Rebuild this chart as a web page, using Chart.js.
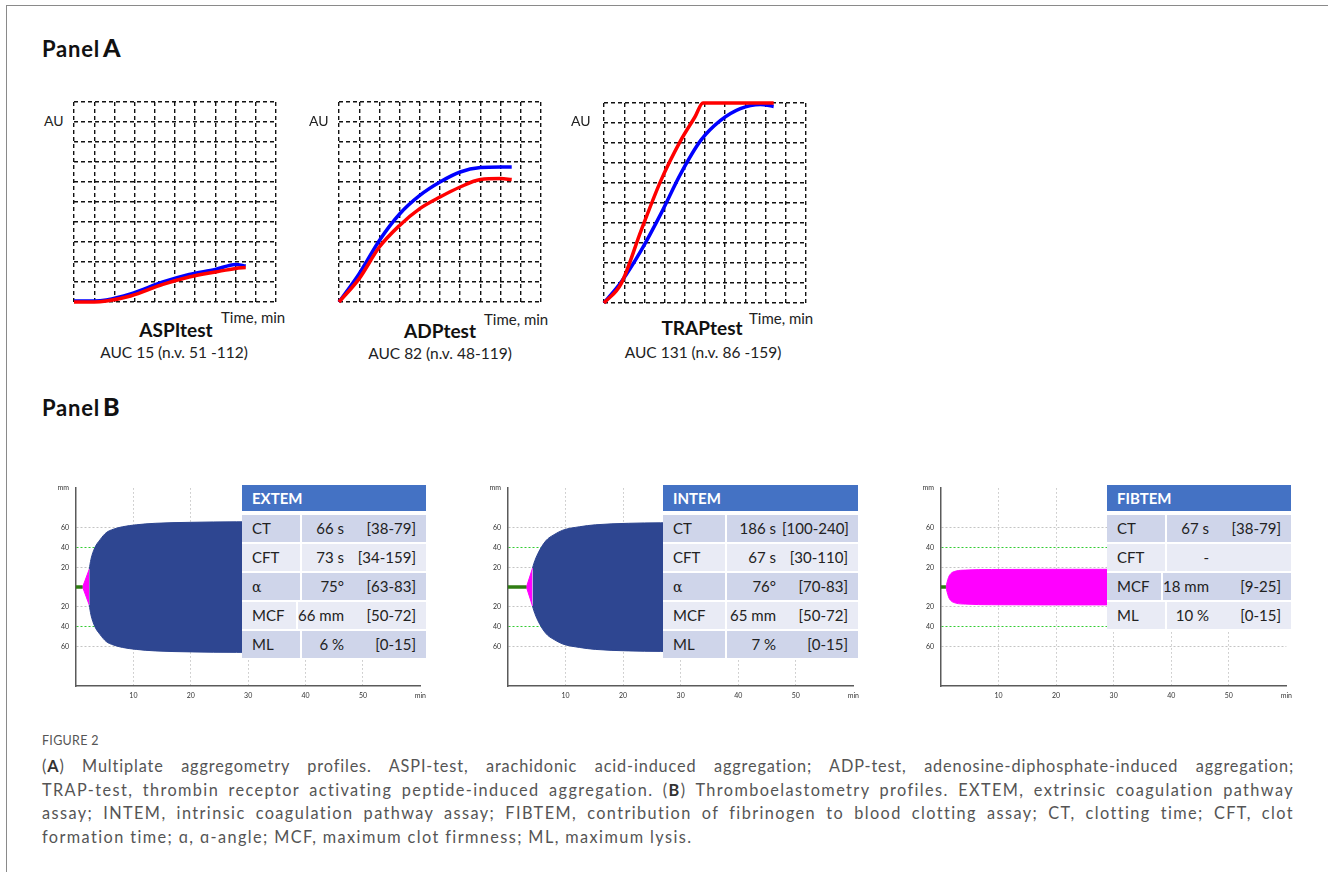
<!DOCTYPE html>
<html>
<head>
<meta charset="utf-8">
<script src="https://cdn.jsdelivr.net/npm/chart.js@4.4.1/dist/chart.umd.min.js"></script>
<style>
  body { margin: 0; background: #fff; width: 1328px; height: 872px; overflow: hidden; position: relative; font-family: Lato, "Open Sans", sans-serif; color: #222; }
  .abs { position: absolute; white-space: nowrap; }
  .frame { position: absolute; left: 6px; top: 5px; width: 1330px; height: 880px; border-left: 1px solid #8a8a8a; border-top: 1px solid #8a8a8a; }
  canvas { position: absolute; }
  .ttl { font-weight: bold; font-size: 22px; letter-spacing: 0.8px; color: #111; }
  .ttl b { font-size: 25px; margin-left: 3px; letter-spacing: 0; }
  .au { font-size: 14px; line-height: 16px; }
  .tm { font-size: 15px; line-height: 16px; }
  .test { font-size: 19px; line-height: 20px; font-weight: bold; transform: translateX(-50%); color: #111; }
  .auc { font-size: 15.5px; line-height: 18px; transform: translateX(-50%); }
  .tbl { position: absolute; font-size: 15px; background: #fff; }
  .tbl .hd { height: 26px; line-height: 26px; background: #4472c4; color: #fff; font-weight: bold; padding-left: 10px; border-bottom: 4px solid #fff; }
  .tbl .row { display: flex; height: 27px; line-height: 27px; border-bottom: 2px solid #fff; white-space: nowrap; }
  .tbl .lb { padding-left: 10px; box-sizing: border-box; border-right: 2px solid #fff; }
  .tbl .vl { flex: 1; display: flex; justify-content: flex-end; padding-right: 10px; }
  .tbl .rg { width: 66px; text-align: right; margin-left: 6px; }
  .cap { position: absolute; left: 42px; width: 1252px; font-size: 16.3px; letter-spacing: 1.4px; color: #555; line-height: 23.5px; }
  .cap div { text-align: justify; text-align-last: justify; white-space: nowrap; }
  .cap div.first { letter-spacing: 0.85px; }
  .cap div.last { text-align-last: left; }
  .cap b { color: #333; font-weight: bold; }
</style>
</head>
<body>
<div class="frame"></div>

<div class="abs ttl" style="left:42px; top:32px;">Panel<b>A</b></div>
<div class="abs ttl" style="left:42px; top:391px;">Panel<b>B</b></div>

<canvas id="aspi" width="210" height="208" style="left:70px; top:98px;"></canvas>
<canvas id="adp" width="210" height="208" style="left:335px; top:98px;"></canvas>
<canvas id="trap" width="210" height="208" style="left:600px; top:99px;"></canvas>

<div class="abs au" style="left:44px; top:113px;">AU</div>
<div class="abs au" style="left:309px; top:113px;">AU</div>
<div class="abs au" style="left:571px; top:113px;">AU</div>

<div class="abs tm" style="left:221px; top:309px;">Time, min</div>
<div class="abs tm" style="left:484px; top:311px;">Time, min</div>
<div class="abs tm" style="left:749px; top:310px;">Time, min</div>

<div class="abs test" style="left:176px; top:320px;">ASPItest</div>
<div class="abs test" style="left:440px; top:321px;">ADPtest</div>
<div class="abs test" style="left:702px; top:318px;">TRAPtest</div>

<div class="abs auc" style="left:174px; top:343px;">AUC 15 (n.v. 51 -112)</div>
<div class="abs auc" style="left:440px; top:344px;">AUC 82 (n.v. 48-119)</div>
<div class="abs auc" style="left:703px; top:343px;">AUC 131 (n.v. 86 -159)</div>

<canvas id="extem" width="386" height="229" style="left:46px; top:477px;"></canvas>
<canvas id="intem" width="387" height="229" style="left:478px; top:477px;"></canvas>
<canvas id="fibtem" width="387" height="229" style="left:911px; top:477px;"></canvas>

<div id="tExtem" class="tbl" style="left:242px; top:485px; width:184px;"></div>
<div id="tIntem" class="tbl" style="left:663px; top:485px; width:195px;"></div>
<div id="tFibtem" class="tbl" style="left:1107px; top:485px; width:184px;"></div>

<div class="abs" style="left:42px; top:733px; font-size:12.5px; color:#555; letter-spacing:0.3px;">FIGURE 2</div>
<div class="cap" style="top:754px;">
  <div class="first">(<b>A</b>) Multiplate aggregometry profiles. ASPI-test, arachidonic acid-induced aggregation; ADP-test, adenosine-diphosphate-induced aggregation;</div>
  <div>TRAP-test, thrombin receptor activating peptide-induced aggregation. (<b>B</b>) Thromboelastometry profiles. EXTEM, extrinsic coagulation pathway</div>
  <div>assay; INTEM, intrinsic coagulation pathway assay; FIBTEM, contribution of fibrinogen to blood clotting assay; CT, clotting time; CFT, clot</div>
  <div class="last">formation time; ɑ, ɑ-angle; MCF, maximum clot firmness; ML, maximum lysis.</div>
</div>

<script>
// Panel A: aggregometry curves, in grid units (10 x 10 grid)
var aspiTime = [0, 1.0, 1.6, 2.8, 4.4, 5.7, 7.0, 8.0, 8.5];
var aspiRed  = [0, 0, 0.05, 0.3, 0.88, 1.25, 1.5, 1.68, 1.72];
var aspiBlue = [0.05, 0.05, 0.1, 0.4, 1.0, 1.38, 1.63, 1.88, 1.8];

var adpTime = [0, 1, 2, 3, 4, 5, 6, 7, 8, 8.55];
var adpRed  = [0, 1.17, 2.75, 3.83, 4.67, 5.25, 5.75, 6.12, 6.17, 6.12];
var adpBlue = [0, 1.42, 3.08, 4.4, 5.33, 6.0, 6.5, 6.72, 6.75, 6.75];

var trapRedTime  = [0, 0.85, 1.84, 2.82, 3.8, 4.5, 4.9, 6, 7, 8.4];
var trapRed      = [0, 0.97, 3.63, 6.13, 8.13, 9.3, 10, 10, 10, 10];
var trapBlueTime = [0, 0.85, 1.84, 2.82, 3.8, 4.79, 5.77, 6.75, 7.74, 8.4];
var trapBlue     = [0, 1.05, 2.63, 4.47, 6.47, 8.13, 9.13, 9.72, 9.93, 9.83];

// Panel B: ROTEM amplitude (mm) vs time (min), drawn mirrored around 0
var extemGreenEnd = 1.15;
var extemPinkTime = [1.15, 2.3];
var extemPinkAmp  = [0, 18];
var extemBlueTime = [2.3, 2.6, 3.26, 4.2, 5.26, 6.5, 8.1, 10.5, 13.8, 20, 28, 60];
var extemBlueAmp  = [18, 28, 39.6, 48, 55, 58.5, 61, 63, 64.5, 65.5, 66, 66];

var intemGreenEnd = 3.2;
var intemPinkTime = [3.2, 4.25];
var intemPinkAmp  = [0, 19];
var intemBlueTime = [4.25, 4.5, 5.2, 6.6, 8, 9.5, 12.4, 15.2, 20.9, 26.5, 60];
var intemBlueAmp  = [19, 24, 34, 47, 53, 57.5, 61, 63, 64.5, 65, 65];

var fibtemGreenEnd = 0.85;
var fibtemPinkTime = [0.85, 1.3, 1.7, 2.6, 4.3, 8.8, 28, 60];
var fibtemPinkAmp  = [0, 9.7, 13.6, 16.2, 17.2, 17.8, 18, 18];

// result tables
var extemLabels = ['CT', 'CFT', 'α', 'MCF', 'ML'];
var extemValues = ['66 s', '73 s', '75°', '66 mm', '6 %'];
var extemRanges = ['[38-79]', '[34-159]', '[63-83]', '[50-72]', '[0-15]'];
var intemLabels = ['CT', 'CFT', 'α', 'MCF', 'ML'];
var intemValues = ['186 s', '67 s', '76°', '65 mm', '7 %'];
var intemRanges = ['[100-240]', '[30-110]', '[70-83]', '[50-72]', '[0-15]'];
var fibtemLabels = ['CT', 'CFT', 'MCF', 'ML'];
var fibtemValues = ['67 s', '-', '18 mm', '10 %'];
var fibtemRanges = ['[38-79]', '', '[9-25]', '[0-15]'];

function pts(xs, ys, sign) {
	return xs.map(function(x, i) { return { x: x, y: (sign || 1) * ys[i] }; });
}

function aggLine(data, color) {
	return {
		data: data,
		borderColor: color,
		borderWidth: 3.5,
		pointRadius: 0,
		cubicInterpolationMode: 'monotone',
		clip: false,
		fill: false
	};
}

function aggChart(id, red, blue) {
	new Chart(document.getElementById(id), {
		type: 'line',
		data: { datasets: [aggLine(red, '#ff0000'), aggLine(blue, '#0000ff')] },
		options: {
			responsive: false,
			animation: false,
			layout: { padding: 4 },
			plugins: { legend: { display: false }, tooltip: { enabled: false } },
			scales: {
				x: {
					type: 'linear', min: 0, max: 10,
					ticks: { display: false, stepSize: 1 },
					grid: { color: '#111', lineWidth: 1.4, drawTicks: false },
					border: { display: false, dash: [4, 3] },
					afterFit: function(s) { s.height = 0; }
				},
				y: {
					type: 'linear', min: 0, max: 10,
					ticks: { display: false, stepSize: 1 },
					grid: { color: '#111', lineWidth: 1.4, drawTicks: false },
					border: { display: false, dash: [4, 3] },
					afterFit: function(s) { s.width = 0; }
				}
			}
		}
	});
}

aggChart('aspi', pts(aspiTime, aspiRed), pts(aspiTime, aspiBlue));
aggChart('adp', pts(adpTime, adpRed), pts(adpTime, adpBlue));
aggChart('trap', pts(trapRedTime, trapRed), pts(trapBlueTime, trapBlue));

function shape(data, color) {
	return {
		data: data,
		borderColor: color,
		backgroundColor: color,
		borderWidth: 1,
		pointRadius: 0,
		cubicInterpolationMode: 'monotone',
		fill: 'origin'
	};
}

function rotemChart(id, greenEnd, pinkT, pinkA, blueT, blueA) {
	var sets = [{
		data: [{ x: 0, y: 0 }, { x: greenEnd, y: 0 }],
		borderColor: '#2f7d12',
		borderWidth: 3.5,
		pointRadius: 0,
		fill: false
	}];
	sets.push(shape(pts(pinkT, pinkA), '#ff00ff'));
	sets.push(shape(pts(pinkT, pinkA, -1), '#ff00ff'));
	if (blueT) {
		sets.push(shape(pts(blueT, blueA), '#2e4691'));
		sets.push(shape(pts(blueT, blueA, -1), '#2e4691'));
	}
	new Chart(document.getElementById(id), {
		type: 'line',
		data: { datasets: sets },
		options: {
			responsive: false,
			animation: false,
			layout: { padding: { top: 4, right: 6, left: 0, bottom: 0 } },
			plugins: { legend: { display: false }, tooltip: { enabled: false } },
			scales: {
				x: {
					type: 'linear', min: 0, max: 60,
					afterBuildTicks: function(s) { s.ticks = [10, 20, 30, 40, 50, 60].map(function(v) { return { value: v }; }); },
					ticks: {
						font: { size: 7, family: 'Lato' }, color: '#333', padding: 6, maxRotation: 0,
						callback: function(v) { return v === 60 ? 'min' : v; }
					},
					grid: {
						drawTicks: false, lineWidth: 1,
						color: function(c) { return c.tick && c.tick.value === 60 ? 'rgba(0,0,0,0)' : '#c4c4c4'; }
					},
					border: { color: '#5a5a5a', width: 1.5, dash: [1.5, 2.5] },
					afterFit: function(s) { s.height = 20; }
				},
				y: {
					type: 'linear', min: -100, max: 100,
					afterBuildTicks: function(s) { s.ticks = [-60, -40, -20, 20, 40, 60, 100].map(function(v) { return { value: v }; }); },
					ticks: {
						font: { size: 7, family: 'Lato' }, color: '#333', padding: 7,
						callback: function(v) { return v === 100 ? 'mm' : Math.abs(v); }
					},
					grid: {
						drawTicks: false, lineWidth: 1,
						color: function(c) {
							if (!c.tick) return '#c4c4c4';
							if (c.tick.value === 100) return 'rgba(0,0,0,0)';
							return Math.abs(c.tick.value) === 40 ? '#33cc33' : '#c4c4c4';
						}
					},
					border: { color: '#5a5a5a', width: 1.5, dash: [2, 2] },
					afterFit: function(s) { s.width = 30; }
				}
			}
		}
	});
}

rotemChart('extem', extemGreenEnd, extemPinkTime, extemPinkAmp, extemBlueTime, extemBlueAmp);
rotemChart('intem', intemGreenEnd, intemPinkTime, intemPinkAmp, intemBlueTime, intemBlueAmp);
rotemChart('fibtem', fibtemGreenEnd, fibtemPinkTime, fibtemPinkAmp);

function table(id, name, labelW, labels, values, ranges) {
	var html = '<div class="hd">' + name + '</div>';
	labels.forEach(function(l, i) {
		var bg = i % 2 === 0 ? '#cfd5ea' : '#e9ebf5';
		var lab = l === 'α' ? '<span style="font-family:\'DejaVu Serif\';font-size:14px">α</span>' : l;
		html += '<div class="row"><div class="lb" style="width:' + labelW + 'px;background:' + bg + '">' + lab + '</div>' +
			'<div class="vl" style="background:' + bg + '"><span>' + values[i] + '</span><span class="rg">' + ranges[i] + '</span></div></div>';
	});
	document.getElementById(id).innerHTML = html;
}

table('tExtem', 'EXTEM', 60, extemLabels, extemValues, extemRanges);
table('tIntem', 'INTEM', 64, intemLabels, intemValues, intemRanges);
table('tFibtem', 'FIBTEM', 60, fibtemLabels, fibtemValues, fibtemRanges);
</script>
</body>
</html>
